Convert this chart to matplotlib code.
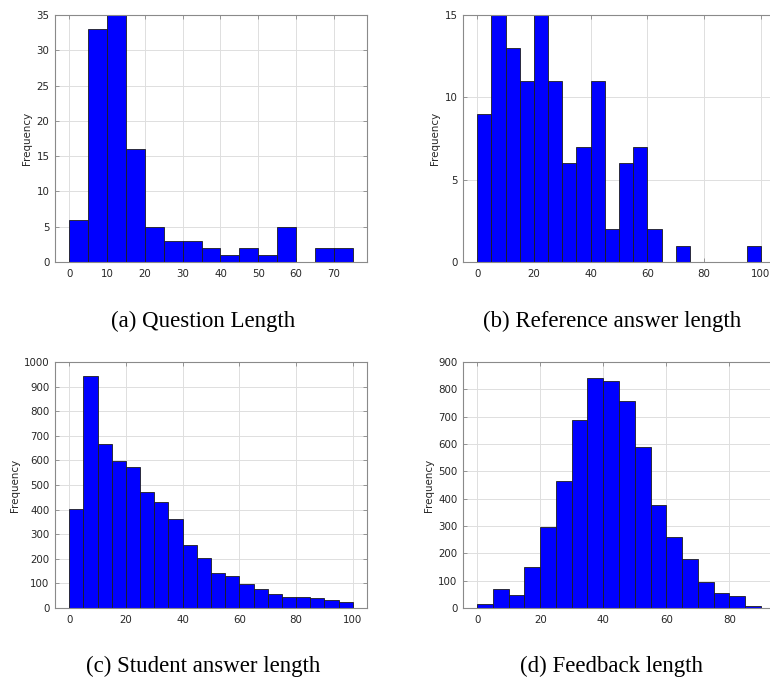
import numpy as np
import matplotlib
matplotlib.use("Agg")
import matplotlib.pyplot as plt

# Counts per bin of width 5
question_len = [6, 33, 35, 16, 5, 3, 3, 2, 1, 2, 1, 5, 0, 2, 2]
reference_len = [9, 15, 13, 11, 15, 11, 6, 7, 11, 2, 6, 7, 2, 0, 1, 0, 0, 0, 0, 1]
student_len = [404, 943, 665, 598, 572, 473, 431, 362, 257, 205,
               141, 131, 99, 76, 56, 43, 45, 41, 34, 26]
feedback_len = [13, 71, 49, 149, 298, 465, 689, 841, 832, 759,
                590, 376, 261, 179, 94, 56, 45, 9]

captions = ["(a) Question Length", "(b) Reference answer length",
            "(c) Student answer length", "(d) Feedback length"]
bin_width = 5

panels = [
    # counts, rect, xlim, ylim, xticks, yticks
    (question_len, [55 / 770, 1 - 262 / 679, 312 / 770, 247 / 679],
     (-3.75, 78.75), (0, 35), np.arange(0, 71, 10), np.arange(0, 36, 5)),
    (reference_len, [463 / 770, 1 - 262 / 679, 312 / 770, 247 / 679],
     (-5, 105), (0, 15), np.arange(0, 101, 20), np.arange(0, 16, 5)),
    (student_len, [55 / 770, 1 - 608 / 679, 312 / 770, 246 / 679],
     (-5, 105), (0, 1000), np.arange(0, 101, 20), np.arange(0, 1001, 100)),
    (feedback_len, [463 / 770, 1 - 608 / 679, 312 / 770, 246 / 679],
     (-4.5, 94.5), (0, 900), np.arange(0, 81, 20), np.arange(0, 901, 100)),
]
caption_pos = [(203, 321), (612, 321), (203, 666), (611, 666)]

fig = plt.figure(figsize=(7.7, 6.79), dpi=100)

for (counts, rect, xl, yl, xt, yt), cap, (cx, cy) in zip(panels, captions, caption_pos):
    ax = fig.add_axes(rect)
    edges = np.arange(len(counts)) * bin_width
    ax.bar(edges, counts, width=bin_width, align="edge",
           color="#0000ff", edgecolor="#1e1e1e", linewidth=0.6, zorder=2)
    ax.set_xlim(xl)
    ax.set_ylim(yl)
    ax.set_xticks(xt)
    ax.set_yticks(yt)
    ax.grid(True, color="#dedede", linewidth=0.7, zorder=0)
    ax.set_axisbelow(True)
    ax.tick_params(direction="in", length=3, width=0.6, color="#888888",
                   labelsize=7.4, labelcolor="#262626", top=True, right=True)
    ax.tick_params(axis="x", pad=5)
    ax.tick_params(axis="y", pad=4)
    for s in ax.spines.values():
        s.set_color("#8a8a8a")
        s.set_linewidth(0.8)
    ax.set_ylabel("Frequency", fontsize=7.4, color="#262626", labelpad=3)
    fig.text(cx / 770, 1 - cy / 679, cap, ha="center", va="center",
             family="Liberation Serif", fontsize=16.5)

fig.savefig("out.png", dpi=100)
